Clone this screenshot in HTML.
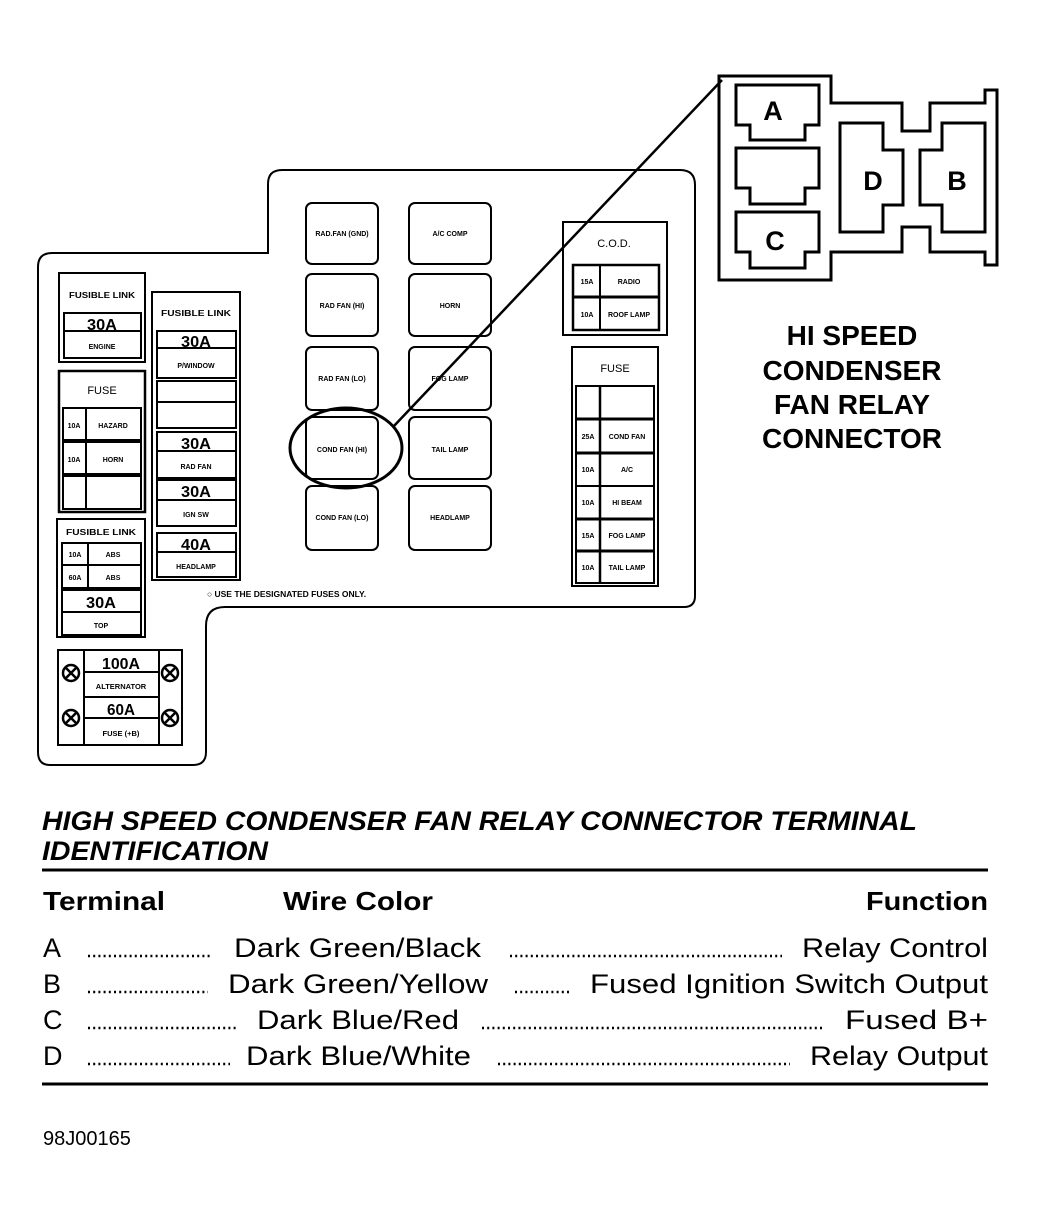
<!DOCTYPE html>
<html><head><meta charset="utf-8"><style>
html,body{margin:0;padding:0;background:#fff;}
svg{display:block;}
text{font-family:"Liberation Sans",sans-serif;fill:#000;}
.s{font-weight:bold;text-anchor:middle;}
.m{font-size:16px;text-anchor:middle;font-weight:bold;}
.r{font-size:27px;}
.dot{stroke:#000;stroke-width:2.5;stroke-dasharray:2 3.2;}
</style></head><body>
<svg width="1037" height="1220" viewBox="0 0 1037 1220" xmlns="http://www.w3.org/2000/svg" font-size="8">
<g fill="none" stroke="#000" stroke-width="2">
<path d="M52 253 H268 V184 Q268 170 282 170 H680 Q695 170 695 185 V596 Q695 607 684 607 H225 Q206 607 206 626 V752 Q206 765 193 765 H50 Q38 765 38 752 V267 Q38 253 52 253 Z"/>
<rect x="59" y="273" width="86" height="89"/>
<rect x="64" y="313" width="77" height="45"/><line x1="64" y1="331" x2="141" y2="331"/>
<rect x="59" y="371" width="86" height="141" stroke-width="2.5"/>
<rect x="63" y="408" width="78" height="101"/>
<line x1="63" y1="441" x2="141" y2="441" stroke-width="4"/>
<line x1="63" y1="475" x2="141" y2="475" stroke-width="4"/>
<line x1="86" y1="408" x2="86" y2="509"/>
<rect x="57" y="519" width="88" height="118"/>
<rect x="62" y="543" width="79" height="92"/>
<line x1="62" y1="565" x2="141" y2="565"/>
<line x1="62" y1="589" x2="141" y2="589" stroke-width="4"/>
<line x1="62" y1="612" x2="141" y2="612"/>
<line x1="88" y1="543" x2="88" y2="589"/>
<rect x="58" y="650" width="124" height="95"/>
<line x1="84" y1="650" x2="84" y2="745"/><line x1="159" y1="650" x2="159" y2="745"/>
<line x1="84" y1="672" x2="159" y2="672"/><line x1="84" y1="697" x2="159" y2="697"/><line x1="84" y1="718" x2="159" y2="718"/>
<g stroke-width="2.5">
<circle cx="71" cy="673" r="8"/><path d="M65.5 667.5l11 11M76.5 667.5l-11 11"/>
<circle cx="170" cy="673" r="8"/><path d="M164.5 667.5l11 11M175.5 667.5l-11 11"/>
<circle cx="71" cy="718" r="8"/><path d="M65.5 712.5l11 11M76.5 712.5l-11 11"/>
<circle cx="170" cy="718" r="8"/><path d="M164.5 712.5l11 11M175.5 712.5l-11 11"/>
</g>
<rect x="152" y="292" width="88" height="288"/>
<rect x="157" y="331" width="79" height="47"/><line x1="157" y1="348" x2="236" y2="348"/>
<rect x="157" y="381" width="79" height="47"/><line x1="157" y1="402" x2="236" y2="402"/>
<rect x="157" y="432" width="79" height="46"/><line x1="157" y1="451" x2="236" y2="451"/>
<rect x="157" y="480" width="79" height="46" /><line x1="157" y1="500" x2="236" y2="500"/>
<line x1="157" y1="479" x2="236" y2="479" stroke-width="4"/>
<rect x="157" y="533" width="79" height="44"/><line x1="157" y1="552" x2="236" y2="552"/>
<rect x="306" y="203" width="72" height="61" rx="6"/>
<rect x="409" y="203" width="82" height="61" rx="6"/>
<rect x="306" y="274" width="72" height="62" rx="6"/>
<rect x="409" y="274" width="82" height="62" rx="6"/>
<rect x="306" y="347" width="72" height="63" rx="6"/>
<rect x="409" y="347" width="82" height="63" rx="6"/>
<rect x="306" y="417" width="72" height="62" rx="6"/>
<rect x="409" y="417" width="82" height="62" rx="6"/>
<rect x="306" y="486" width="72" height="64" rx="6"/>
<rect x="409" y="486" width="82" height="64" rx="6"/>
<ellipse cx="346" cy="448" rx="56" ry="40" stroke-width="3"/>
<line x1="393" y1="427" x2="722" y2="80" stroke-width="2.5"/>
<rect x="563" y="222" width="104" height="113"/>
<rect x="573" y="265" width="86" height="65" stroke-width="2.5"/>
<line x1="573" y1="297" x2="659" y2="297" stroke-width="3"/>
<line x1="600" y1="265" x2="600" y2="330"/>
<rect x="572" y="347" width="86" height="239"/>
<rect x="576" y="386" width="78" height="197"/>
<line x1="576" y1="419" x2="654" y2="419" stroke-width="3"/>
<line x1="576" y1="453" x2="654" y2="453" stroke-width="3"/>
<line x1="576" y1="486" x2="654" y2="486" stroke-width="2"/>
<line x1="576" y1="519" x2="654" y2="519" stroke-width="3"/>
<line x1="576" y1="551" x2="654" y2="551" stroke-width="3"/>
<line x1="600" y1="386" x2="600" y2="583" stroke-width="2.5"/>
<g stroke-width="3">
<path d="M719 76 H831 V103 H902 V131 H930 V103 H985 V90 H997 V265 H985 V252 H930 V227 H902 V252 H831 V280 H719 Z"/>
<path d="M736 85 H819 V125 H805 V140 H750 V125 H736 Z"/>
<path d="M736 148 H819 V188 H805 V204 H750 V188 H736 Z"/>
<path d="M736 212 H819 V252 H805 V268 H750 V252 H736 Z"/>
<path d="M840 123 H883 V150 H903 V205 H883 V232 H840 Z"/>
<path d="M985 123 H942 V150 H920 V205 H942 V232 H985 Z"/>
</g>
<line x1="42" y1="870" x2="988" y2="870" stroke-width="3"/>
<line x1="42" y1="1084" x2="988" y2="1084" stroke-width="3"/>
</g>
<text class="s" x="102" y="298" textLength="66" lengthAdjust="spacingAndGlyphs">FUSIBLE LINK</text>
<text class="m" x="102" y="330" textLength="30" lengthAdjust="spacingAndGlyphs">30A</text>
<text class="s" x="102" y="349" font-size="7">ENGINE</text>
<text class="s" x="102" y="394" style="font-size:11px;font-weight:normal">FUSE</text>
<text class="s" x="74" y="428" font-size="7">10A</text><text class="s" x="113" y="428" font-size="7">HAZARD</text>
<text class="s" x="74" y="462" font-size="7">10A</text><text class="s" x="113" y="462" font-size="7">HORN</text>
<text class="s" x="101" y="535" textLength="70" lengthAdjust="spacingAndGlyphs">FUSIBLE LINK</text>
<text class="s" x="75" y="557" font-size="7">10A</text><text class="s" x="113" y="557" font-size="7">ABS</text>
<text class="s" x="75" y="580" font-size="7">60A</text><text class="s" x="113" y="580" font-size="7">ABS</text>
<text class="m" x="101" y="608" textLength="30" lengthAdjust="spacingAndGlyphs">30A</text>
<text class="s" x="101" y="628" font-size="7">TOP</text>
<text class="m" x="121" y="669" textLength="38" lengthAdjust="spacingAndGlyphs">100A</text>
<text class="s" x="121" y="689" font-size="7.5">ALTERNATOR</text>
<text class="m" x="121" y="715" textLength="28" lengthAdjust="spacingAndGlyphs">60A</text>
<text class="s" x="121" y="736" font-size="7.5">FUSE (+B)</text>
<text class="s" x="196" y="316" textLength="70" lengthAdjust="spacingAndGlyphs">FUSIBLE LINK</text>
<text class="m" x="196" y="347" textLength="30" lengthAdjust="spacingAndGlyphs">30A</text>
<text class="s" x="196" y="368" font-size="7">P/WINDOW</text>
<text class="m" x="196" y="449" textLength="30" lengthAdjust="spacingAndGlyphs">30A</text>
<text class="s" x="196" y="469" font-size="7">RAD FAN</text>
<text class="m" x="196" y="497" textLength="30" lengthAdjust="spacingAndGlyphs">30A</text>
<text class="s" x="196" y="517" font-size="7">IGN SW</text>
<text class="m" x="196" y="550" textLength="30" lengthAdjust="spacingAndGlyphs">40A</text>
<text class="s" x="196" y="569" font-size="7">HEADLAMP</text>
<text class="s" x="342" y="236" font-size="7">RAD.FAN (GND)</text>
<text class="s" x="450" y="236" font-size="7">A/C COMP</text>
<text class="s" x="342" y="308" font-size="7">RAD FAN (HI)</text>
<text class="s" x="450" y="308" font-size="7">HORN</text>
<text class="s" x="342" y="381" font-size="7">RAD FAN (LO)</text>
<text class="s" x="450" y="381" font-size="7">FOG LAMP</text>
<text class="s" x="342" y="452" font-size="7">COND FAN (HI)</text>
<text class="s" x="450" y="452" font-size="7">TAIL LAMP</text>
<text class="s" x="342" y="520" font-size="7">COND FAN (LO)</text>
<text class="s" x="450" y="520" font-size="7">HEADLAMP</text>
<text x="207" y="597" font-size="8.5" font-weight="bold">○ USE THE DESIGNATED FUSES ONLY.</text>
<text class="s" x="614" y="247" style="font-size:11px;font-weight:normal">C.O.D.</text>
<text class="s" x="587" y="284" font-size="7">15A</text><text class="s" x="629" y="284" font-size="7">RADIO</text>
<text class="s" x="587" y="317" font-size="7">10A</text><text class="s" x="629" y="317" font-size="7">ROOF LAMP</text>
<text class="s" x="615" y="372" style="font-size:11px;font-weight:normal">FUSE</text>
<text class="s" x="588" y="439" font-size="7">25A</text><text class="s" x="627" y="439" font-size="7">COND FAN</text>
<text class="s" x="588" y="472" font-size="7">10A</text><text class="s" x="627" y="472" font-size="7">A/C</text>
<text class="s" x="588" y="505" font-size="7">10A</text><text class="s" x="627" y="505" font-size="7">HI BEAM</text>
<text class="s" x="588" y="538" font-size="7">15A</text><text class="s" x="627" y="538" font-size="7">FOG LAMP</text>
<text class="s" x="588" y="570" font-size="7">10A</text><text class="s" x="627" y="570" font-size="7">TAIL LAMP</text>
<g font-size="27" font-weight="bold" text-anchor="middle">
<text x="773" y="120">A</text><text x="775" y="250">C</text>
<text x="873" y="190">D</text><text x="957" y="190">B</text>
</g>
<g font-size="28" font-weight="bold" text-anchor="middle">
<text x="852" y="345">HI SPEED</text>
<text x="852" y="380">CONDENSER</text>
<text x="852" y="414">FAN RELAY</text>
<text x="852" y="448">CONNECTOR</text>
</g>
<g font-size="27" font-weight="bold" font-style="italic">
<text x="42" y="830" textLength="875" lengthAdjust="spacingAndGlyphs">HIGH SPEED CONDENSER FAN RELAY CONNECTOR TERMINAL</text>
<text x="42" y="860" textLength="226" lengthAdjust="spacingAndGlyphs">IDENTIFICATION</text>
</g>
<g font-size="26" font-weight="bold">
<text x="43" y="910" textLength="122" lengthAdjust="spacingAndGlyphs">Terminal</text>
<text x="283" y="910" textLength="150" lengthAdjust="spacingAndGlyphs">Wire Color</text>
<text x="866" y="910" textLength="122" lengthAdjust="spacingAndGlyphs">Function</text>
</g>
<g>
<text class="r" x="43" y="957">A</text>
<text class="r" x="234" y="957" textLength="247" lengthAdjust="spacingAndGlyphs">Dark Green/Black</text>
<text class="r" x="802" y="957" textLength="186" lengthAdjust="spacingAndGlyphs">Relay Control</text>
<text class="r" x="43" y="993">B</text>
<text class="r" x="228" y="993" textLength="260" lengthAdjust="spacingAndGlyphs">Dark Green/Yellow</text>
<text class="r" x="590" y="993" textLength="398" lengthAdjust="spacingAndGlyphs">Fused Ignition Switch Output</text>
<text class="r" x="43" y="1029">C</text>
<text class="r" x="257" y="1029" textLength="202" lengthAdjust="spacingAndGlyphs">Dark Blue/Red</text>
<text class="r" x="845" y="1029" textLength="143" lengthAdjust="spacingAndGlyphs">Fused B+</text>
<text class="r" x="43" y="1065">D</text>
<text class="r" x="246" y="1065" textLength="225" lengthAdjust="spacingAndGlyphs">Dark Blue/White</text>
<text class="r" x="810" y="1065" textLength="178" lengthAdjust="spacingAndGlyphs">Relay Output</text>
</g>
<g class="dot">
<line x1="88" y1="956" x2="210" y2="956"/><line x1="510" y1="956" x2="782" y2="956"/>
<line x1="88" y1="992" x2="208" y2="992"/><line x1="515" y1="992" x2="570" y2="992"/>
<line x1="88" y1="1028" x2="236" y2="1028"/><line x1="482" y1="1028" x2="824" y2="1028"/>
<line x1="88" y1="1064" x2="230" y2="1064"/><line x1="498" y1="1064" x2="790" y2="1064"/>
</g>
<text x="43" y="1145" font-size="20">98J00165</text>
</svg>
</body></html>
